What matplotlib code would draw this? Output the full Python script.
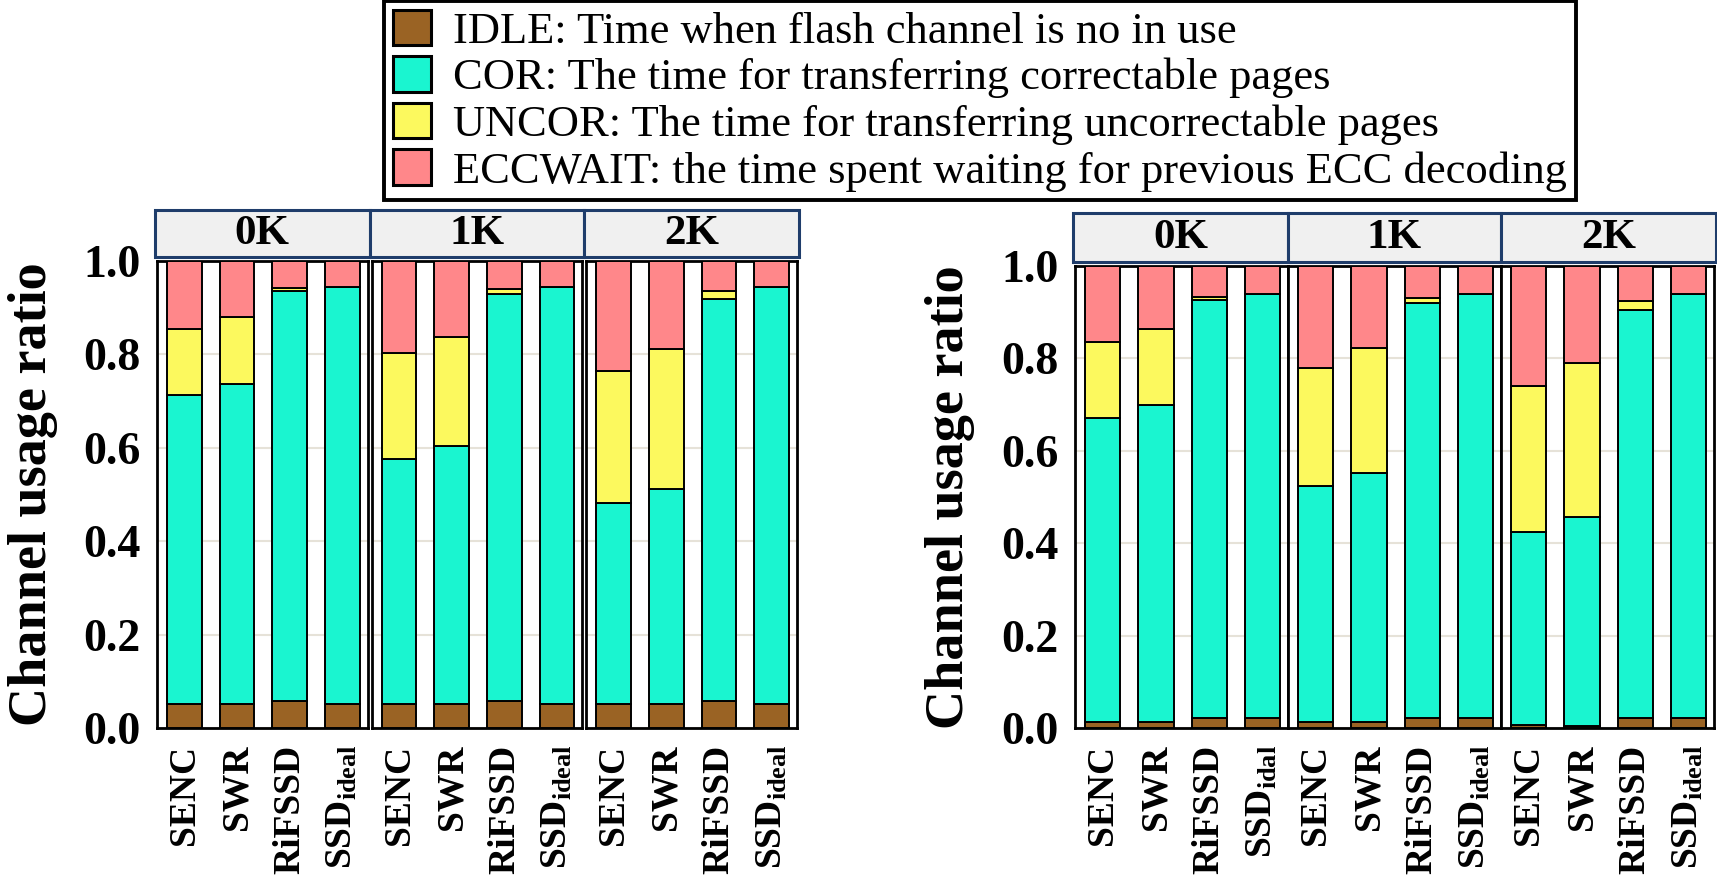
#!/usr/bin/env python3
"""Channel usage breakdown (IDLE / COR / UNCOR / ECCWAIT) for two workloads, faceted by 0K/1K/2K."""
import matplotlib
matplotlib.use("Agg")
import matplotlib.pyplot as plt
from matplotlib.patches import Rectangle, Patch
import numpy as np

plt.rcParams["font.family"] = ["Liberation Serif", "DejaVu Serif"]
plt.rcParams["mathtext.fontset"] = "custom"
plt.rcParams["mathtext.rm"] = "Liberation Serif:bold"
plt.rcParams["mathtext.default"] = "rm"

GROUPS = ["0K", "1K", "2K"]
SYSTEMS_LEFT = ["SENC", "SWR", "RiFSSD", r"SSD$_{\mathrm{ideal}}$"]
SYSTEMS_RIGHT_0K = ["SENC", "SWR", "RiFSSD", r"SSD$_{\mathrm{idal}}$"]

CATEGORIES = ["IDLE", "COR", "UNCOR", "ECCWAIT"]
CATEGORY_LABEL = {
    "IDLE": "IDLE: Time when flash channel is no in use",
    "COR": "COR: The time for transferring correctable pages",
    "UNCOR": "UNCOR: The time for transferring uncorrectable pages",
    "ECCWAIT": "ECCWAIT: the time spent waiting for previous ECC decoding",
}
CATEGORY_COLOR = {
    "IDLE": "#9a6324",
    "COR": "#1af5d0",
    "UNCOR": "#fcf95e",
    "ECCWAIT": "#ff878a",
}

# values per bar, order: 0K(SENC, SWR, RiFSSD, SSDideal), 1K(...), 2K(...)
LEFT_IDLE = [0.052, 0.052, 0.057, 0.052, 0.052, 0.052, 0.057, 0.052, 0.052, 0.052, 0.057, 0.052]
LEFT_COR = [0.662, 0.684, 0.879, 0.892, 0.523, 0.551, 0.872, 0.892, 0.430, 0.459, 0.862, 0.892]
LEFT_UNCOR = [0.141, 0.145, 0.007, 0.000, 0.229, 0.235, 0.011, 0.000, 0.283, 0.301, 0.017, 0.000]
LEFT_ECCWAIT = [0.145, 0.119, 0.057, 0.056, 0.196, 0.162, 0.060, 0.056, 0.235, 0.188, 0.064, 0.056]

RIGHT_IDLE = [0.012, 0.012, 0.021, 0.021, 0.012, 0.012, 0.021, 0.021, 0.006, 0.005, 0.021, 0.021]
RIGHT_COR = [0.660, 0.688, 0.906, 0.919, 0.511, 0.541, 0.898, 0.919, 0.419, 0.451, 0.884, 0.919]
RIGHT_UNCOR = [0.163, 0.164, 0.006, 0.000, 0.256, 0.269, 0.012, 0.000, 0.316, 0.335, 0.020, 0.000]
RIGHT_ECCWAIT = [0.165, 0.136, 0.067, 0.060, 0.221, 0.178, 0.069, 0.060, 0.259, 0.209, 0.075, 0.060]

W, H = 1717, 876
STRIP_FACE = "#f0f0f0"
STRIP_EDGE = "#1f3d6b"


def draw_panel(fig, x0, x1, gap, y_top, strip_top, strip_bot, data, tick_sets):
    n = len(GROUPS)
    fw = (x1 - x0 - gap * (n - 1)) / n
    bottom_px = 728
    axes = []
    for g in range(n):
        left = x0 + g * (fw + gap)
        ax = fig.add_axes([left / W, 1 - bottom_px / H, fw / W, (bottom_px - y_top) / H])
        axes.append(ax)
        x = np.arange(4)
        base = np.zeros(4)
        for cat in CATEGORIES:
            vals = np.array(data[cat][g * 4:(g + 1) * 4])
            ax.bar(x, vals, 0.66, bottom=base, color=CATEGORY_COLOR[cat],
                   edgecolor="black", linewidth=1.4, zorder=3)
            base += vals
        ax.set_xlim(-0.52, 3.48)
        ax.set_ylim(0, 1.0)
        ax.set_yticks([0, 0.2, 0.4, 0.6, 0.8, 1.0])
        ax.grid(axis="y", color="#e6e2d8", linewidth=1.5, zorder=0)
        ax.set_xticks(x)
        ax.set_xticklabels(tick_sets[g], rotation=90, fontsize=27, fontweight="bold")
        ax.tick_params(axis="both", length=0)
        ax.tick_params(axis="x", pad=12)
        for s in ax.spines.values():
            s.set_linewidth(2)
        if g == 0:
            ax.set_yticklabels(["0.0", "0.2", "0.4", "0.6", "0.8", "1.0"],
                               fontsize=33, fontweight="bold")
            ax.tick_params(axis="y", pad=12)
            ax.set_ylabel("Channel usage ratio", fontsize=39, fontweight="bold")
            ax.yaxis.set_label_coords(-0.47, 0.5)
        else:
            ax.set_yticklabels([])

        # strip
        sl = x0 - 2 if g == 0 else left - gap / 2
        sr = x1 + 2 if g == n - 1 else left + fw + gap / 2
        fig.add_artist(Rectangle((sl / W, 1 - strip_bot / H), (sr - sl) / W,
                                 (strip_bot - strip_top) / H, transform=fig.transFigure,
                                 facecolor=STRIP_FACE, edgecolor=STRIP_EDGE, linewidth=2.2))
        fig.text((sl + sr) / 2 / W, 1 - (strip_top + strip_bot) / 2 / H, GROUPS[g],
                 ha="center", va="center", fontsize=31, fontweight="bold")
    return axes


def main():
    fig = plt.figure(figsize=(W / 100, H / 100), dpi=100)

    left_data = {"IDLE": LEFT_IDLE, "COR": LEFT_COR, "UNCOR": LEFT_UNCOR, "ECCWAIT": LEFT_ECCWAIT}
    right_data = {"IDLE": RIGHT_IDLE, "COR": RIGHT_COR, "UNCOR": RIGHT_UNCOR, "ECCWAIT": RIGHT_ECCWAIT}

    draw_panel(fig, 157, 797, 4, 261, 210, 257, left_data,
               [SYSTEMS_LEFT, SYSTEMS_LEFT, SYSTEMS_LEFT])
    draw_panel(fig, 1075, 1714, 0, 266, 213, 262, right_data,
               [SYSTEMS_RIGHT_0K, SYSTEMS_LEFT, SYSTEMS_LEFT])

    handles = [Patch(facecolor=CATEGORY_COLOR[c], edgecolor="black", linewidth=2.2,
                     label=CATEGORY_LABEL[c]) for c in CATEGORIES]
    leg = fig.legend(handles=handles, loc="upper left", bbox_to_anchor=(384 / W, 0.999),
                     fontsize=32, frameon=True, fancybox=False, borderaxespad=0,
                     framealpha=1, handlelength=0.85, handleheight=0.85, handletextpad=0.5,
                     labelspacing=0.1, borderpad=0.2)
    leg.get_frame().set_edgecolor("black")
    leg.get_frame().set_linewidth(2.8)

    fig.savefig("out.png", dpi=100)


if __name__ == "__main__":
    main()
